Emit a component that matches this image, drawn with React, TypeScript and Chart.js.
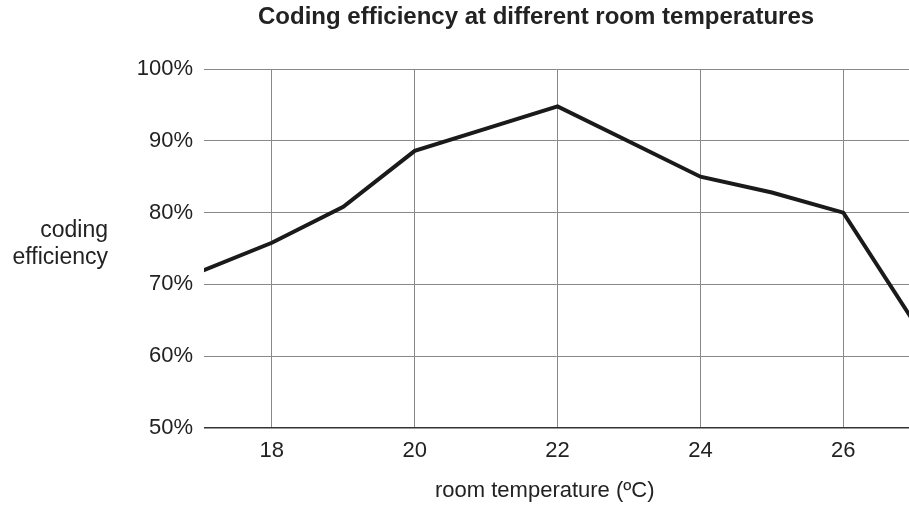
import React, { useEffect, useRef } from "react";
import { Chart, registerables } from "chart.js";

Chart.register(...registerables);

const temperatures = [17, 18, 19, 20, 21, 22, 23, 24, 25, 26, 27];
const efficiency = [71.8, 75.8, 80.8, 88.6, 91.7, 94.8, 89.9, 85, 82.8, 80, 64.6];
const xTicks = [18, 20, 22, 24, 26];
const yTicks = [50, 60, 70, 80, 90, 100];
const chartTitle = "Coding efficiency at different room temperatures";
const xTitle = "room temperature (ºC)";
const yTitleLines = ["coding", "efficiency"];

const FONT = "'Liberation Sans', Arial, Helvetica, sans-serif";

const textPlugin = {
  id: "textPlugin",
  afterDraw(chart: any) {
    const ctx = chart.ctx;
    ctx.save();
    ctx.fillStyle = "#222";
    ctx.textBaseline = "middle";
    ctx.textAlign = "left";
    ctx.font = `bold 24px ${FONT}`;
    ctx.fillText(chartTitle, 258, 17);
    ctx.font = `22px ${FONT}`;
    ctx.fillText(xTitle, 435, 491);
    ctx.font = `23px ${FONT}`;
    ctx.textAlign = "right";
    ctx.fillText(yTitleLines[0], 108, 231);
    ctx.fillText(yTitleLines[1], 108, 258);
    ctx.restore();
  },
};

export default function App() {
  const ref = useRef<HTMLCanvasElement | null>(null);
  useEffect(() => {
    if (!ref.current) return;
    const chart = new Chart(ref.current, {
      type: "line",
      data: {
        datasets: [
          {
            data: temperatures.map((t, i) => ({ x: t, y: efficiency[i] })),
            borderColor: "#1a1a1a",
            borderWidth: 4,
            pointRadius: 0,
            tension: 0,
            fill: false,
            clip: 0,
          },
        ],
      },
      options: {
        animation: false,
        responsive: true,
        maintainAspectRatio: false,
        layout: { padding: { top: 69, right: 0, left: 0, bottom: 0 } },
        plugins: {
          legend: { display: false },
          tooltip: { enabled: false },
          title: { display: false },
        },
        scales: {
          x: {
            type: "linear",
            min: 17.05,
            max: 26.92,
            afterBuildTicks: (s: any) => {
              s.ticks = xTicks.map((v) => ({ value: v }));
            },
            afterFit: (s: any) => {
              s.height = 80;
            },
            border: { display: false },
            grid: { drawTicks: false, color: "#888", lineWidth: 1 },
            ticks: {
              padding: 10,
              color: "#222",
              font: { family: FONT, size: 22 },
              callback: (v: any) => String(v),
            },
          },
          y: {
            min: 50,
            max: 100,
            afterBuildTicks: (s: any) => {
              s.ticks = yTicks.map((v) => ({ value: v }));
            },
            afterFit: (s: any) => {
              s.width = 204;
            },
            border: { display: false },
            grid: {
              drawTicks: false,
              color: (c: any) => (c.tick && c.tick.value === 50 ? "#333" : "#888"),
              lineWidth: (c: any) => (c.tick && c.tick.value === 50 ? 1.5 : 1),
            },
            ticks: {
              padding: 11,
              color: "#222",
              font: { family: FONT, size: 22 },
              callback: (v: any) => v + "%",
            },
          },
        },
      },
      plugins: [textPlugin],
    } as any);
    return () => chart.destroy();
  }, []);
  return (
    <div style={{ position: "absolute", left: 0, top: 0, width: 909, height: 508, background: "#fff" }}>
      <canvas ref={ref} />
    </div>
  );
}
